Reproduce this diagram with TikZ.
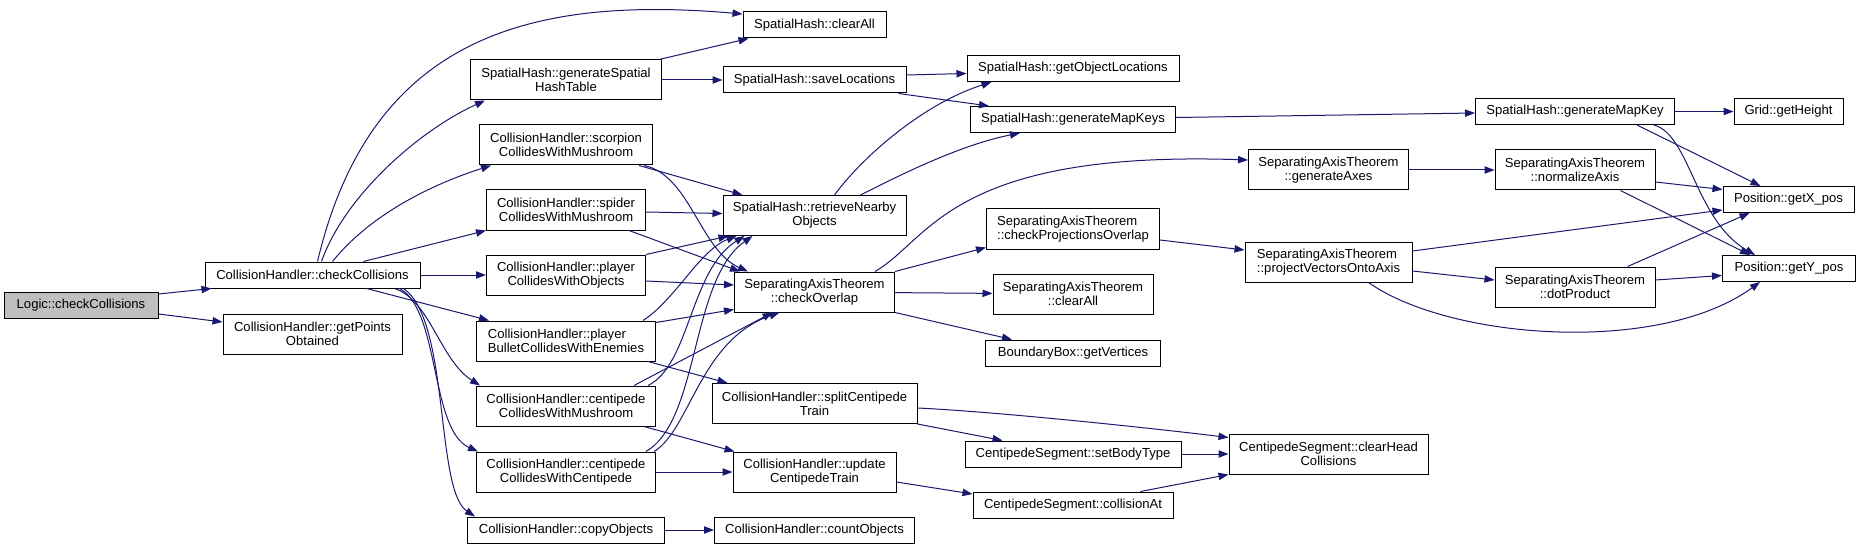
\documentclass[tikz,border=0pt]{standalone}
\usepackage{fontspec}
\setmainfont{Liberation Sans}
\usetikzlibrary{arrows.meta,calc}

\definecolor{edgeblue}{RGB}{25,25,112}
\definecolor{rootgray}{RGB}{191,191,191}

\tikzset{
  fn/.style={draw=black, line width=0.75pt, fill=white, inner sep=0pt, align=center,
    minimum height=19.5pt, font=\fontsize{9.8}{10.5}\selectfont},
  fn2/.style={fn, minimum height=30pt},
  wd/.style={minimum width=#1*0.75pt},
  call/.style={draw=edgeblue, line width=0.75pt, -{Triangle[length=7.5pt,width=5.5pt]}},
}

\begin{document}
\begin{tikzpicture}[x=0.75pt,y=-0.75pt]
\path[use as bounding box, fill=white] (0,0) rectangle (1860,549);

\node[fn, wd=154, fill=rootgray] (logic) at (81,305) {Logic::checkCollisions};
\node[fn, wd=215] (chk) at (312.5,275) {CollisionHandler::checkCollisions};
\node[fn2, wd=179] (gpo) at (312.5,334) {CollisionHandler::getPoints\\Obtained};

\node[fn2, wd=191] (ghash) at (566,80) {SpatialHash::generateSpatial\\HashTable};
\node[fn2, wd=173] (scorp) at (566,145) {CollisionHandler::scorpion\\CollidesWithMushroom};
\node[fn2, wd=159] (spider) at (566,210) {CollisionHandler::spider\\CollidesWithMushroom};
\node[fn2, wd=159] (pobj) at (566,275) {CollisionHandler::player\\CollidesWithObjects};
\node[fn2, wd=179, align=left] (pbullet) at (566,341) {CollisionHandler::player\\BulletCollidesWithEnemies};
\node[fn2, wd=179] (cmush) at (566,406) {CollisionHandler::centipede\\CollidesWithMushroom};
\node[fn2, wd=179] (ccent) at (566,472) {CollisionHandler::centipede\\CollidesWithCentipede};
\node[fn, wd=197] (copy) at (566,530) {CollisionHandler::copyObjects};

\node[fn, wd=143] (shclear) at (814.5,25) {SpatialHash::clearAll};
\node[fn, wd=183] (save) at (814.5,80) {SpatialHash::saveLocations};
\node[fn2, wd=183] (retr) at (814.5,215.5) {SpatialHash::retrieveNearby\\Objects};
\node[fn2, wd=160] (chkov) at (814.5,292) {SeparatingAxisTheorem\\::checkOverlap};
\node[fn2, wd=205] (split) at (814.5,403.5) {CollisionHandler::splitCentipede\\Train};
\node[fn2, wd=163] (update) at (814.5,472) {CollisionHandler::update\\CentipedeTrain};
\node[fn, wd=200] (count) at (814.5,530) {CollisionHandler::countObjects};

\node[fn, wd=212] (getobj) at (1073,68.5) {SpatialHash::getObjectLocations};
\node[fn, wd=205] (mapkeys) at (1073,119.5) {SpatialHash::generateMapKeys};
\node[fn2, wd=173, align=left] (cpo) at (1073,229) {SeparatingAxisTheorem\\::checkProjectionsOverlap};
\node[fn2, wd=160] (satclear) at (1073,294) {SeparatingAxisTheorem\\::clearAll};
\node[fn, wd=175] (verts) at (1073,353) {BoundaryBox::getVertices};
\node[fn, wd=216] (setbody) at (1073,454) {CentipedeSegment::setBodyType};
\node[fn, wd=200] (collat) at (1073,505) {CentipedeSegment::collisionAt};

\node[fn2, wd=160] (genaxes) at (1328.5,170) {SeparatingAxisTheorem\\::generateAxes};
\node[fn2, wd=167, align=left] (pva) at (1328.5,262) {SeparatingAxisTheorem\\::projectVectorsOntoAxis};
\node[fn2, wd=199] (chc) at (1328.5,454) {CentipedeSegment::clearHead\\Collisions};

\node[fn, wd=199] (mapkey) at (1575,111.5) {SpatialHash::generateMapKey};
\node[fn2, wd=160] (normaxis) at (1575,170) {SeparatingAxisTheorem\\::normalizeAxis};
\node[fn2, wd=160] (dot) at (1575,287) {SeparatingAxisTheorem\\::dotProduct};

\node[fn, wd=109] (height) at (1788.5,111.5) {Grid::getHeight};
\node[fn, wd=131] (xpos) at (1788.5,199.5) {Position::getX\_pos};
\node[fn, wd=133] (ypos) at (1789,268.5) {Position::getY\_pos};

\draw[call] ($(logic.east)+(0,-11)$) -- ($(chk.south west)+(7,0)$);
\draw[call] ($(logic.east)+(0,9)$) -- ($(gpo.west)+(0,-12)$);
\draw[call] ($(chk.north)+(5,0)$) .. controls (370,40) and (525,-5) .. ($(shclear.west)+(0,-11)$);
\draw[call] ($(chk.north)+(9,0)$) .. controls (345,195) and (420,130) .. ($(ghash.south west)+(15,0)$);
\draw[call] ($(chk.north)+(20,0)$) .. controls (370,215) and (430,185) .. ($(scorp.south west)+(12,0)$);
\draw[call] ($(chk.north)+(51,0)$) -- (spider.south west);
\draw[call] (chk) -- (pobj);
\draw[call] ($(chk.south)+(54,0)$) -- ($(pbullet.north west)+(13,0)$);
\draw[call] ($(chk.south)+(82,0)$) .. controls (430,300) and (440,360) .. ($(cmush.north west)+(4,0)$);
\draw[call] ($(chk.south)+(87,0)$) .. controls (440,310) and (430,430) .. ($(ccent.north west)+(2,0)$);
\draw[call] ($(chk.south)+(91,0)$) .. controls (450,320) and (435,490) .. ($(copy.north west)+(8,0)$);

\draw[call] ($(ghash.north east)+(-3,0)$) -- ($(shclear.south west)+(6,0)$);
\draw[call] (ghash) -- (save);
\draw[call] ($(scorp.south east)+(-14,0)$) -- ($(retr.north west)+(20,0)$);
\draw[call] ($(scorp.south east)+(-9,0)$) .. controls (690,175) and (700,250) .. ($(chkov.north west)+(14,0)$);
\draw[call] ($(spider.east)+(0,2)$) -- ($(retr.west)+(0,-2)$);
\draw[call] ($(spider.south east)+(-17,0)$) -- ($(chkov.north west)+(6,0)$);
\draw[call] (pobj.north east) -- ($(retr.south west)+(6,0)$);
\draw[call] ($(pobj.east)+(0,6)$) -- ($(chkov.west)+(0,-7)$);
\draw[call] ($(pbullet.north east)+(-13,0)$) .. controls (675,300) and (700,250) .. ($(retr.south west)+(14,0)$);
\draw[call] ($(pbullet.north east)+(0,2)$) -- ($(chkov.south west)+(0,-3)$);
\draw[call] ($(pbullet.south east)+(-8,0)$) -- ($(split.north west)+(16,0)$);
\draw[call] ($(cmush.north east)+(-8,0)$) .. controls (690,365) and (690,270) .. ($(retr.south west)+(22,0)$);
\draw[call] ($(cmush.north east)+(-22,0)$) -- ($(chkov.south)+(-42,0)$);
\draw[call] ($(cmush.south east)+(-12,0)$) -- ($(update.north west)+(2,0)$);
\draw[call] ($(ccent.north east)+(-10,0)$) .. controls (700,420) and (690,280) .. ($(retr.south west)+(30,0)$);
\draw[call] ($(ccent.north east)+(-2,0)$) .. controls (690,430) and (700,340) .. ($(chkov.south)+(-35,0)$);
\draw[call] (ccent) -- (update);
\draw[call] (copy) -- (count);

\draw[call] ($(save.east)+(0,-5)$) -- ($(getobj.west)+(0,5)$);
\draw[call] ($(save.south east)+(-8,0)$) -- ($(mapkeys.north west)+(19,0)$);
\draw[call] ($(retr.north)+(20,0)$) .. controls (860,160) and (920,105) .. ($(getobj.south west)+(25,0)$);
\draw[call] ($(retr.north east)+(-46,0)$) .. controls (900,175) and (960,145) .. ($(mapkeys.south west)+(50,0)$);
\draw[call] ($(chkov.north east)+(-20,0)$) .. controls (930,240) and (950,150) .. ($(genaxes.west)+(0,-10)$);
\draw[call] (chkov.north east) -- ($(cpo.south west)+(0,-2)$);
\draw[call] (chkov) -- (satclear);
\draw[call] (chkov.south east) -- ($(verts.north west)+(27,0)$);
\draw[call] ($(split.east)+(0,4.5)$) .. controls (1000,412) and (1150,428) .. ($(chc.north west)+(0,4)$);
\draw[call] (split.south east) -- ($(setbody.north west)+(38,0)$);
\draw[call] ($(update.east)+(0,10)$) -- ($(collat.west)+(0,-11)$);

\draw[call] (setbody) -- (chc);
\draw[call] ($(collat.north east)+(-33,0)$) -- (chc.south west);
\draw[call] ($(mapkeys.east)+(0,-2)$) -- ($(mapkey.west)+(0,1.5)$);
\draw[call] ($(cpo.east)+(0,11)$) -- ($(pva.west)+(0,-12)$);
\draw[call] (genaxes) -- (normaxis);
\draw[call] ($(pva.east)+(0,-11)$) -- ($(xpos.south west)+(0,-3)$);
\draw[call] ($(pva.east)+(0,9)$) -- ($(dot.west)+(0,-7)$);
\draw[call] ($(pva.south)+(40,0)$) .. controls (1450,340) and (1660,355) .. ($(ypos.south west)+(38,0)$);

\draw[call] (mapkey) -- (height);
\draw[call] ($(mapkey.south east)+(-38,0)$) -- ($(xpos.north west)+(38,0)$);
\draw[call] ($(mapkey.south east)+(-21,0)$) .. controls (1690,135) and (1695,220) .. ($(ypos.north west)+(33,0)$);
\draw[call] ($(normaxis.east)+(0,12)$) -- ($(xpos.west)+(0,-10)$);
\draw[call] ($(normaxis.south east)+(-35,0)$) -- ($(ypos.north west)+(28,0)$);
\draw[call] ($(dot.north east)+(-28,0)$) -- ($(xpos.south west)+(27,0)$);
\draw[call] ($(dot.east)+(0,-7)$) -- ($(ypos.west)+(0,7)$);
\end{tikzpicture}
\end{document}
